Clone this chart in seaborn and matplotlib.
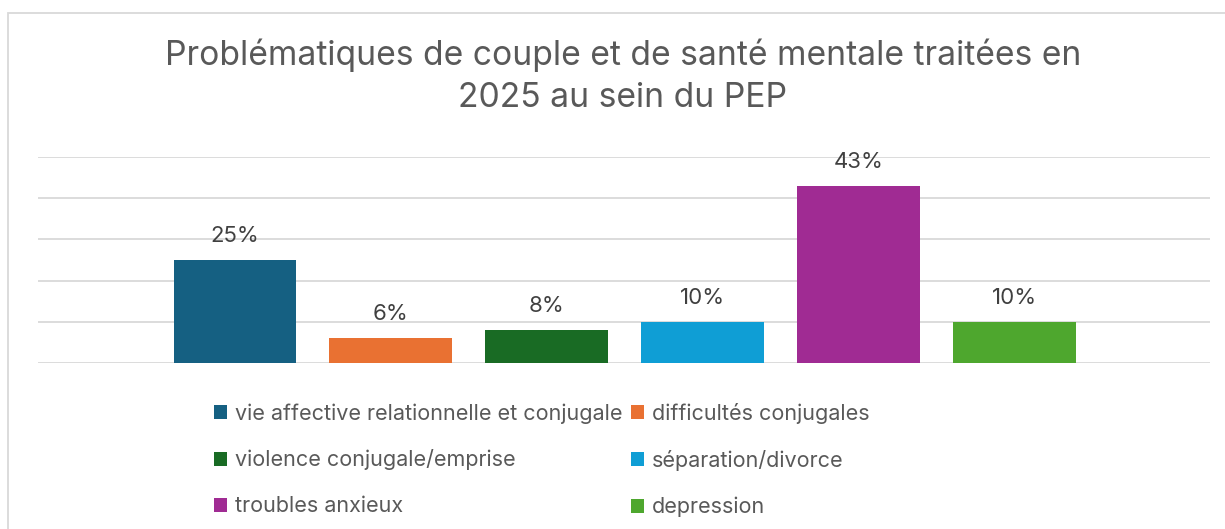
import matplotlib
matplotlib.use("Agg")
import matplotlib.pyplot as plt
import matplotlib.patches as mpatches
import seaborn as sns
import pandas as pd

categories = [
    "vie affective relationnelle et conjugale",
    "difficultés conjugales",
    "violence conjugale/emprise",
    "séparation/divorce",
    "troubles anxieux",
    "depression",
]
values = [25, 6, 8, 10, 43, 10]
labels = ["25%", "6%", "8%", "10%", "43%", "10%"]
colors = ["#156082", "#E97132", "#196B24", "#0F9ED5", "#A02B93", "#4EA72E"]
title = "Problématiques de couple et de santé mentale traitées en\n2025 au sein du PEP"

sns.set_theme(style="white")
plt.rcParams["font.family"] = ["Inter", "DejaVu Sans"]

TXT = "#595959"
GRID = "#D9D9D9"

fig = plt.figure(figsize=(12.25, 5.29), dpi=100)
W, H = 1225, 529

# chart frame
fig.patches.append(mpatches.Rectangle((8 / W, -0.1), 1.2, 1 - 12.5 / H + 0.1,
                                      transform=fig.transFigure, fill=False,
                                      edgecolor=GRID, linewidth=1.3))

ax = fig.add_axes([38 / W, 1 - 363 / H, (1210 - 38) / W, (363 - 157) / H])
df = pd.DataFrame({"cat": categories, "val": values})
sns.barplot(data=df, x="cat", y="val", hue="cat", palette=colors,
            width=0.785, legend=False, ax=ax, saturation=1, linewidth=0)

ax.set_ylim(0, 50)
ax.set_xlim(-1.262, 6.255)
ax.set_yticks([0, 10, 20, 30, 40, 50])
ax.yaxis.grid(True, color=GRID, linewidth=1.3)
ax.set_axisbelow(True)
for s in ax.spines.values():
    s.set_visible(False)
ax.set_xticks([])
ax.set_yticklabels([])
ax.tick_params(left=False, bottom=False)
ax.set_xlabel("")
ax.set_ylabel("")

for cont, lab in zip(ax.containers, labels):
    ax.bar_label(cont, labels=[lab], padding=10, fontsize=16, color="#404040")

fig.text(623 / W, 1 - 76 / H, title, ha="center", va="center",
         fontsize=24.2, color=TXT, linespacing=1.42)

# legend (two columns, row-major order)
handles = [mpatches.Patch(facecolor=c, edgecolor="none") for c in colors]
col1 = [0, 2, 4]
col2 = [1, 3, 5]
common = dict(frameon=False, fontsize=15.5, handlelength=0.62, handleheight=0.62,
              handletextpad=0.35, labelspacing=1.2, borderpad=0, borderaxespad=0,
              labelcolor=TXT)
leg1 = fig.legend([handles[i] for i in col1], [categories[i] for i in col1],
                  loc="upper left", bbox_to_anchor=(214 / W, 1 - 403 / H), **common)
leg2 = fig.legend([handles[i] for i in col2], [categories[i] for i in col2],
                  loc="upper left", bbox_to_anchor=(631 / W, 1 - 403 / H), **common)

fig.savefig("out.png", dpi=100)
